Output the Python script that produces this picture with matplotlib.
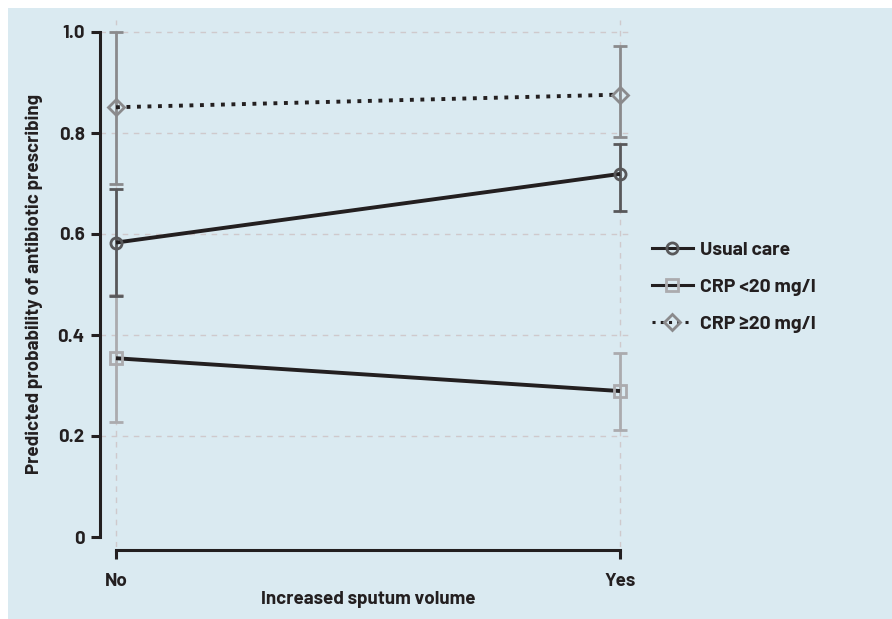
import matplotlib
matplotlib.use("Agg")
import matplotlib.pyplot as plt
from matplotlib.patches import Rectangle
from matplotlib.lines import Line2D

plt.rcParams['font.family'] = ['Barlow', 'Barlow Semi Condensed', 'DejaVu Sans']
plt.rcParams['font.weight'] = 'bold'
plt.rcParams['axes.labelweight'] = 'bold'

# ---- data ----
categories = ["No", "Yes"]
series_names = ["Usual care", "CRP <20 mg/l", "CRP \u226520 mg/l"]
usual_mean = [0.583, 0.719]
usual_low = [0.478, 0.646]
usual_high = [0.689, 0.778]
crp_low_mean = [0.354, 0.289]
crp_low_low = [0.228, 0.212]
crp_low_high = [0.480, 0.365]
crp_high_mean = [0.851, 0.876]
crp_high_low = [0.700, 0.793]
crp_high_high = [1.000, 0.973]
yticks = [0, 0.2, 0.4, 0.6, 0.8, 1.0]
ytick_labels = ["0", "0.2", "0.4", "0.6", "0.8", "1.0"]

BG = "#daeaf1"
INK = "#231f20"
GRID = "#cfc9cc"
C_USUAL = "#58585a"
C_LOW = "#ababae"
C_HIGH = "#8a8a8c"

W, H = 892, 619
fig = plt.figure(figsize=(W / 100, H / 100), dpi=100, facecolor="white")
fig.patches.append(Rectangle((8 / W, 0), 1, (H - 8) / H, transform=fig.transFigure,
                             facecolor=BG, edgecolor="none", zorder=-10))

# axes geometry (pixels)
ax_left, ax_right = 100, 632
ax_top, ax_bot = 20, 547
y0_pix, y1_pix = 537, 32
x0_pix, x1_pix = 116, 620
ax = fig.add_axes([ax_left / W, (H - ax_bot) / H, (ax_right - ax_left) / W, (ax_bot - ax_top) / H])
ax.set_facecolor("none")

ppu_y = (y0_pix - y1_pix)
ppu_x = (x1_pix - x0_pix)
ax.set_ylim(-(ax_bot - y0_pix) / ppu_y, (y0_pix - ax_top) / ppu_y)
ax.set_xlim(-(x0_pix - ax_left) / ppu_x, 1 + (ax_right - x1_pix) / ppu_x)

x = list(range(len(categories)))

def err(mean, low, high):
    return [[m - l for m, l in zip(mean, low)], [h - m for m, h in zip(mean, high)]]

ebkw = dict(fmt="none", elinewidth=2.0, capsize=5, capthick=2.0)
ax.errorbar(x, crp_low_mean, yerr=err(crp_low_mean, crp_low_low, crp_low_high), ecolor=C_LOW, zorder=3, **ebkw)
ax.errorbar(x, crp_high_mean, yerr=err(crp_high_mean, crp_high_low, crp_high_high), ecolor=C_HIGH, zorder=3, **ebkw)
ax.errorbar(x, usual_mean, yerr=err(usual_mean, usual_low, usual_high), ecolor=C_USUAL, zorder=4, **ebkw)

ax.plot(x, usual_mean, color=INK, lw=2.8, zorder=5, solid_capstyle="butt")
ax.plot(x, crp_low_mean, color=INK, lw=2.8, zorder=5, solid_capstyle="butt")
ax.plot(x, crp_high_mean, color=INK, lw=2.8, ls=(0, (1, 1.7)), dash_capstyle="butt", zorder=5)

mkw = dict(ls="none", markerfacecolor="none", markeredgewidth=2.0, zorder=6)
ax.plot(x, usual_mean, marker="o", markersize=8, markeredgecolor=C_USUAL, **mkw)
ax.plot(x, crp_low_mean, marker="s", markersize=8.5, markeredgecolor=C_LOW, **mkw)
ax.plot(x, crp_high_mean, marker="D", markersize=8, markeredgecolor=C_HIGH, **mkw)

# spines and ticks
for s in ["top", "right"]:
    ax.spines[s].set_visible(False)
ax.spines["left"].set_bounds(0, 1)
ax.spines["left"].set_linewidth(2.2)
ax.spines["left"].set_color(INK)
ax.spines["bottom"].set_bounds(0, 1)
ax.spines["bottom"].set_linewidth(2.2)
ax.spines["bottom"].set_color(INK)
ax.spines["bottom"].set_position(("outward", (550 - ax_bot) * 0.72))

ax.set_yticks(yticks)
ax.set_yticklabels(ytick_labels)
ax.set_xticks(x)
ax.set_xticklabels(categories)
ax.tick_params(axis="y", length=6.5, width=2.2, color=INK, pad=4.5, labelsize=13.5, labelcolor=INK)
ax.tick_params(axis="x", length=6.5, width=2.2, color=INK, pad=10, labelsize=13.5, labelcolor=INK)

ax.grid(True, axis="both", ls=(0, (4, 4)), color=GRID, lw=1.0, zorder=0)
ax.yaxis.get_gridlines()[0].set_visible(False)
ax.set_axisbelow(True)

ax.set_ylabel("Predicted probability of antibiotic prescribing", fontsize=13.5, color=INK)
ax.yaxis.set_label_coords((43 - ax_left) / (ax_right - ax_left), 0.5)
ax.set_xlabel("Increased sputum volume", fontsize=13.5, color=INK)
ax.xaxis.set_label_coords(0.5 * (x0_pix + x1_pix - 2 * ax_left) / (ax_right - ax_left),
                          -(591 - ax_bot) / (ax_bot - ax_top))

handles = [
    Line2D([], [], color=INK, lw=2.2, marker="o", markersize=8, markerfacecolor="none",
           markeredgecolor=C_USUAL, markeredgewidth=2.0),
    Line2D([], [], color=INK, lw=2.2, marker="s", markersize=8.5, markerfacecolor="none",
           markeredgecolor=C_LOW, markeredgewidth=2.0),
    Line2D([], [], color=INK, lw=2.2, ls=(0, (1, 1.7)), marker="D", markersize=8,
           markerfacecolor="none", markeredgecolor=C_HIGH, markeredgewidth=2.0),
]
leg = fig.legend(handles, series_names, loc="center left",
                 bbox_to_anchor=(652 / W, (H - 287) / H), frameon=False,
                 fontsize=14, handlelength=2.1, handletextpad=0.35, labelspacing=1.0,
                 borderpad=0, borderaxespad=0)
for t in leg.get_texts():
    t.set_color(INK)

fig.savefig("out.png", dpi=100, facecolor="white")
